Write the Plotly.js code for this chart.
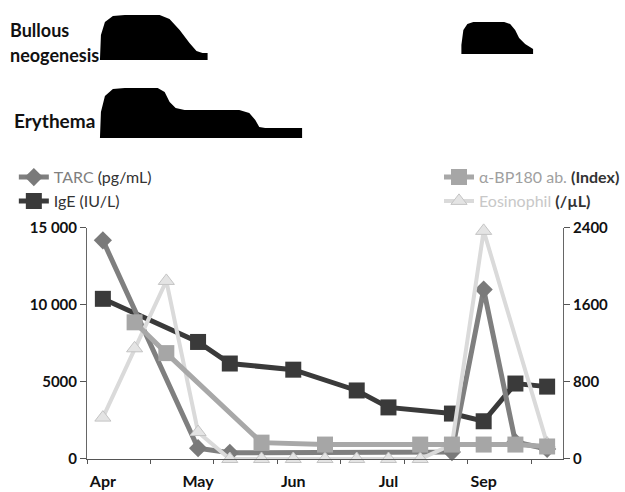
<!DOCTYPE html>
<html><head><meta charset="utf-8">
<script src="https://cdn.plot.ly/plotly-3.0.1.min.js"></script>
<style>html,body{margin:0;padding:0;background:#fff}</style>
</head><body><div id="chart" style="width:625px;height:492px"></div>
<script>
// ---- data (visit index 0..14) ----
const visit = [0,1,2,3,4,5,6,7,8,9,10,11,12,13,14];
const monthPos = [0,3,6,9,12];
const monthLabels = ['Apr','May','Jun','Jul','Sep'];
const tickMarks = [-0.5,1.5,3.5,5.5,7.5,9.5,11.5,13.5];

const tarc   = [14200,null,null,700,400,null,null,null,null,null,null,450,11000,1100,650];
const ige    = [10400,null,null,7600,6200,null,5800,null,4450,3350,null,2950,2450,4900,4700];
const bp180  = [null,1420,1100,null,null,170,null,150,null,null,150,150,150,150,130];
const eosin  = [430,1150,1850,280,0,0,0,0,0,0,0,150,2370,null,160];

const leftTicks = [0,5000,10000,15000];
const leftTickText = ['0','5000','10 000','15 000'];
const rightTicks = [0,800,1600,2400];

// symptom intensity outlines (x in visit units, y relative level 0..1)
const bullousX1 = [-0.092,-0.061,0.065,0.316,0.692,1.79,2.10,2.42,2.73,2.95,3.14,3.30,3.30,-0.092];
const bullousY1 = [0,0.556,0.844,0.978,1,1,0.911,0.667,0.378,0.2,0.156,0.156,0,0];
const bullousX2 = [11.298,11.298,11.36,11.486,11.674,12.647,12.835,12.992,13.117,13.306,13.557,13.557,11.298];
const bullousY2 = [0.133,0.333,0.667,0.8,0.844,0.844,0.8,0.667,0.489,0.356,0.244,0.133,0.133];
const erythX = [-0.092,-0.061,0.065,0.316,0.692,1.728,1.947,2.104,2.293,2.575,4.30,4.614,4.803,4.928,5.116,6.278,6.278,-0.092];
const erythY = [0,0.52,0.84,0.98,1,1,0.92,0.72,0.6,0.56,0.56,0.5,0.36,0.22,0.2,0.2,0,0];

const FONT = 'Lato, "Open Sans", sans-serif';

const traces = [
  {x: visit, y: ige, name: 'IgE (IU/L)', type: 'scatter', mode: 'lines+markers',
   connectgaps: true, line: {color: '#3a3a3a', width: 5},
   marker: {symbol: 'square', size: 16, color: '#3a3a3a'}, legendrank: 2, cliponaxis: false},
  {x: visit, y: eosin, name: '<span style="color:#c8c8c8">Eosinophil</span> <b>(/µL)</b>', yaxis: 'y2',
   type: 'scatter', mode: 'lines+markers', connectgaps: true, legend: 'legend2',
   line: {color: '#dadada', width: 4},
   marker: {symbol: 'triangle-up', size: 14, color: '#e4e4e4', line: {color: '#c4c4c4', width: 1}},
   legendrank: 2, cliponaxis: false},
  {x: visit, y: tarc, name: '<span style="color:#808080">TARC</span> (pg/mL)', type: 'scatter',
   mode: 'lines+markers', connectgaps: true, line: {color: '#7f7f7f', width: 5},
   marker: {symbol: 'diamond', size: 14, color: '#7a7a7a'}, legendrank: 1, cliponaxis: false},
  {x: visit, y: bp180, name: '<span style="color:#a0a0a0">α-BP180 ab.</span> <b>(Index)</b>', yaxis: 'y2',
   type: 'scatter', mode: 'lines+markers', connectgaps: true, legend: 'legend2',
   line: {color: '#a8a8a8', width: 5},
   marker: {symbol: 'square', size: 16, color: '#a6a6a6'}, legendrank: 1, cliponaxis: false},
  {x: bullousX1, y: bullousY1, yaxis: 'y3', type: 'scatter', mode: 'lines', fill: 'toself',
   fillcolor: '#000', line: {width: 0, color: '#000'}, showlegend: false, hoverinfo: 'skip'},
  {x: bullousX2, y: bullousY2, yaxis: 'y3', type: 'scatter', mode: 'lines', fill: 'toself',
   fillcolor: '#000', line: {width: 0, color: '#000'}, showlegend: false, hoverinfo: 'skip'},
  {x: erythX, y: erythY, yaxis: 'y4', type: 'scatter', mode: 'lines', fill: 'toself',
   fillcolor: '#000', line: {width: 0, color: '#000'}, showlegend: false, hoverinfo: 'skip'}
];

const tickFont = {family: FONT, size: 15, color: '#111', weight: 'bold'};

const layout = {
  width: 625, height: 492,
  margin: {l: 87, r: 60, t: 0, b: 33},
  paper_bgcolor: '#fff', plot_bgcolor: 'rgba(0,0,0,0)',
  font: {family: FONT},
  showlegend: true,
  xaxis: {range: [-0.5, 14.5], tickmode: 'array', tickvals: monthPos, ticktext: monthLabels,
    ticks: '', showline: true, linecolor: '#555', linewidth: 1, showgrid: false, zeroline: false,
    tickfont: {family: FONT, size: 16, color: '#111', weight: 'bold'}, ticklabelstandoff: 8,
    minor: {tickmode: 'array', tickvals: tickMarks, ticks: 'outside', ticklen: 4, tickcolor: '#555', showgrid: false},
    anchor: 'y', fixedrange: true},
  yaxis: {domain: [0, 0.5033], range: [0, 15000], tickmode: 'array', tickvals: leftTicks,
    ticktext: leftTickText, ticks: 'outside', ticklen: 6, tickcolor: '#555', showline: true,
    linecolor: '#666', linewidth: 1, showgrid: false, zeroline: false, tickfont: tickFont, anchor: 'x'},
  yaxis2: {overlaying: 'y', side: 'right', range: [0, 2400], tickmode: 'array', tickvals: rightTicks,
    ticks: 'outside', ticklen: 6, tickcolor: '#555', showline: true, linecolor: '#666', linewidth: 1,
    showgrid: false, zeroline: false, tickfont: tickFont, anchor: 'x'},
  yaxis3: {domain: [0.8693, 0.9673], range: [0, 1], visible: false, anchor: 'x', fixedrange: true},
  yaxis4: {domain: [0.6993, 0.8083], range: [0, 1], visible: false, anchor: 'x', fixedrange: true},
  legend: {x: -0.1537, xanchor: 'left', y: 0.651, yanchor: 'top', bgcolor: 'rgba(0,0,0,0)',
    font: {family: FONT, size: 16, color: '#333'}, tracegroupgap: 0},
  legend2: {x: 0.74, xanchor: 'left', y: 0.651, yanchor: 'top', bgcolor: 'rgba(0,0,0,0)',
    font: {family: FONT, size: 16, color: '#333'}, tracegroupgap: 0},
  annotations: [
    {text: '<b>Bullous</b>', xref: 'paper', yref: 'paper', x: -0.1653, y: 0.9346, xanchor: 'left',
     yanchor: 'middle', showarrow: false, font: {family: FONT, size: 18, color: '#111'}},
    {text: '<b>neogenesis</b>', xref: 'paper', yref: 'paper', x: -0.1653, y: 0.8802, xanchor: 'left',
     yanchor: 'middle', showarrow: false, font: {family: FONT, size: 18, color: '#111'}},
    {text: '<b>Erythema</b>', xref: 'paper', yref: 'paper', x: -0.1569, y: 0.7364, xanchor: 'left',
     yanchor: 'middle', showarrow: false, font: {family: FONT, size: 19, color: '#111'}}
  ]
};

Plotly.newPlot('chart', traces, layout, {displayModeBar: false, staticPlot: true});
</script></body></html>
